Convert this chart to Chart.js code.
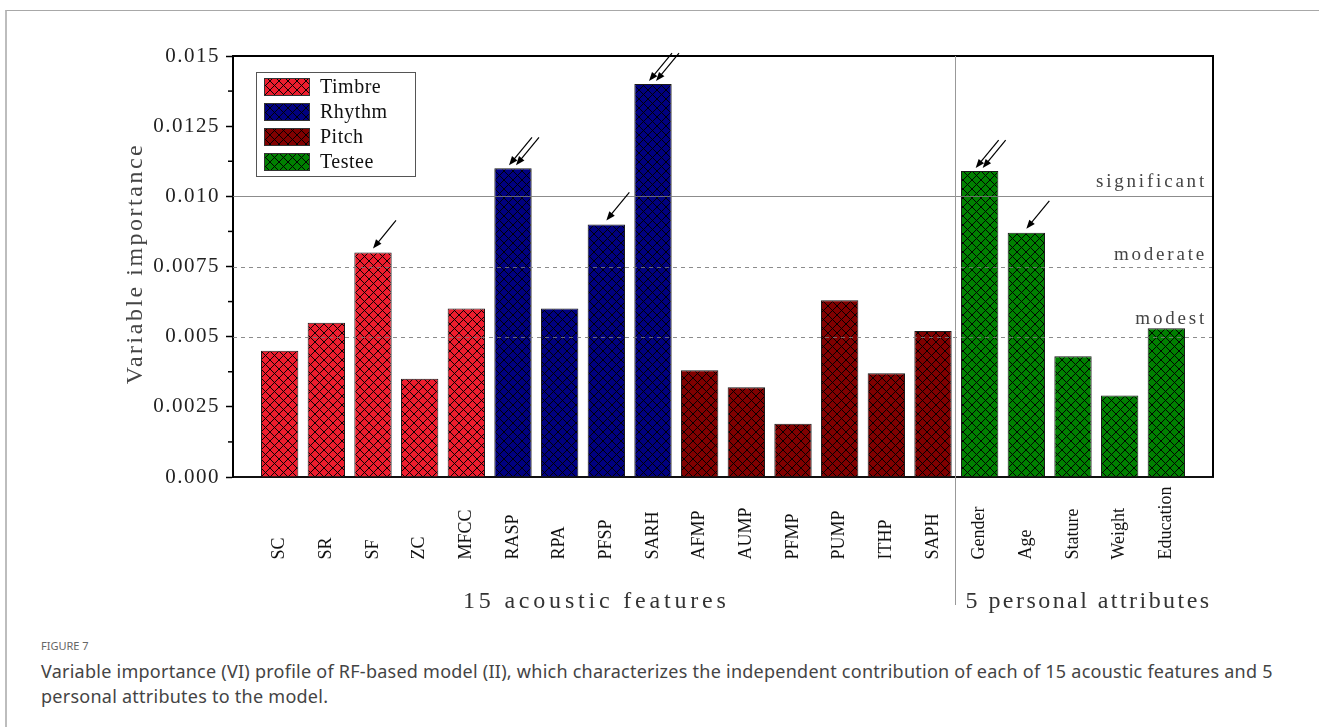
<!DOCTYPE html>
<html>
<head>
<meta charset="utf-8">
<script src="https://cdn.jsdelivr.net/npm/chart.js@4.4.1/dist/chart.umd.min.js"></script>
<style>
  html, body { margin: 0; padding: 0; background: #fff; }
  body { width: 1319px; height: 727px; position: relative; overflow: hidden; font-family: "Noto Sans", sans-serif; }
  .card { position: absolute; left: 5px; top: 10px; width: 1400px; height: 800px; border-left: 2px solid #bdbdbd; border-top: 1px solid #a8a8a8; }
  #wrap { position: absolute; left: 0; top: 0; width: 1319px; height: 625px; }
  .fig-no { position: absolute; left: 41px; top: 638px; font-size: 11px; line-height: 16px; color: #666; }
  .fig-cap { position: absolute; left: 41px; top: 659px; width: 1270px; font-size: 18px; line-height: 25px; letter-spacing: 0.25px; color: #444; white-space: nowrap; }
</style>
</head>
<body>
<div class="card"></div>
<div id="wrap"><canvas id="vi" width="1319" height="625"></canvas></div>
<div class="fig-no">FIGURE 7</div>
<div class="fig-cap">Variable importance (VI) profile of RF-based model (II), which characterizes the independent contribution of each of 15 acoustic features and 5<br>personal attributes to the model.</div>
<script>
// Variable importance of each feature / attribute
const features = ['SC', 'SR', 'SF', 'ZC', 'MFCC', 'RASP', 'RPA', 'PFSP', 'SARH', 'AFMP', 'AUMP', 'PFMP', 'PUMP', 'ITHP', 'SAPH', 'Gender', 'Age', 'Stature', 'Weight', 'Education'];
const importance = [0.0045, 0.0055, 0.0080, 0.0035, 0.0060, 0.0110, 0.0060, 0.0090, 0.0140, 0.0038, 0.0032, 0.0019, 0.0063, 0.0037, 0.0052, 0.0109, 0.0087, 0.0043, 0.0029, 0.0053];
const featureGroup = [0, 0, 0, 0, 0, 1, 1, 1, 1, 2, 2, 2, 2, 2, 2, 3, 3, 3, 3, 3];
const groupNames = ['Timbre', 'Rhythm', 'Pitch', 'Testee'];
const groupColors = ['#EE1D2E', '#000080', '#800000', '#008000'];

// Y axis ticks
const yTicks = [0, 0.0025, 0.005, 0.0075, 0.010, 0.0125, 0.015];
const yTickLabels = ['0.000', '0.0025', '0.005', '0.0075', '0.010', '0.0125', '0.015'];

// Importance levels
const levels = [0.005, 0.0075, 0.010];
const levelNames = ['modest', 'moderate', 'significant'];

// Features flagged with one or two arrows
const singleArrow = ['SF', 'PFSP', 'Age'];
const doubleArrow = ['RASP', 'SARH', 'Gender'];

const sectionNames = ['15 acoustic features', '5 personal attributes'];

const SERIF = '"Liberation Serif", "Times New Roman", serif';

// Cross-hatched fills
function hatch(color) {
  const s = 9;
  const tile = document.createElement('canvas');
  tile.width = s; tile.height = s;
  const g = tile.getContext('2d');
  g.fillStyle = color;
  g.fillRect(0, 0, s, s);
  g.strokeStyle = 'rgba(0,0,0,0.95)';
  g.lineWidth = 1;
  g.beginPath();
  for (const o of [-s, 0, s]) {
    g.moveTo(o, 0); g.lineTo(o + s, s);
    g.moveTo(o + s, 0); g.lineTo(o, s);
  }
  g.stroke();
  return g.createPattern(tile, 'repeat');
}
const patterns = groupColors.map(hatch);

const datasets = groupNames.map((name, g) => ({
  label: name,
  data: features.map((f, i) => ({ x: i, y: importance[i], grp: featureGroup[i] })).filter(d => d.grp === g),
  backgroundColor: patterns[g],
  borderColor: '#1a1a1a',
  borderWidth: 1,
  barPercentage: 0.8,
  categoryPercentage: 1,
  grouped: false
}));

const split = featureGroup.indexOf(3) - 0.5;

function arrow(ctx, tx, ty) {
  const sx = tx + 23, sy = ty - 28;
  const ang = Math.atan2(ty - sy, tx - sx);
  const L = 9, W = 3.5;
  ctx.beginPath();
  ctx.moveTo(sx, sy);
  ctx.lineTo(tx - Math.cos(ang) * (L - 1), ty - Math.sin(ang) * (L - 1));
  ctx.stroke();
  ctx.beginPath();
  ctx.moveTo(tx, ty);
  ctx.lineTo(tx - L * Math.cos(ang) + W * Math.sin(ang), ty - L * Math.sin(ang) - W * Math.cos(ang));
  ctx.lineTo(tx - L * Math.cos(ang) - W * Math.sin(ang), ty - L * Math.sin(ang) + W * Math.cos(ang));
  ctx.closePath();
  ctx.fill();
}

const decor = {
  id: 'decor',
  beforeDraw(chart) { chart.ctx.letterSpacing = '1.5px'; },
  beforeDatasetsDraw(chart) { chart.ctx.letterSpacing = '0px'; },
  afterDatasetsDraw(chart) {
    const ctx = chart.ctx;
    const { left, right, top, bottom } = chart.chartArea;
    const xs = chart.scales.x, ys = chart.scales.y;
    ctx.save();

    // level reference lines
    levels.forEach((v, k) => {
      const y = Math.round(ys.getPixelForValue(v)) + 0.5;
      ctx.strokeStyle = 'rgba(120,120,120,0.85)';
      ctx.lineWidth = 1;
      ctx.setLineDash(k === levels.length - 1 ? [] : [4, 4]);
      ctx.beginPath(); ctx.moveTo(left, y); ctx.lineTo(right, y); ctx.stroke();
    });
    ctx.setLineDash([]);

    // level names
    const lift = [13, 7, 9];
    ctx.font = '19px ' + SERIF;
    ctx.letterSpacing = '2.8px';
    ctx.fillStyle = '#444';
    ctx.textAlign = 'right';
    ctx.textBaseline = 'alphabetic';
    levels.forEach((v, k) => {
      ctx.fillText(levelNames[k], right - 6, ys.getPixelForValue(v) - lift[k]);
    });

    // frame: top and right
    ctx.strokeStyle = '#000';
    ctx.lineWidth = 2;
    ctx.beginPath();
    ctx.moveTo(left - 1, top); ctx.lineTo(right, top); ctx.lineTo(right, bottom);
    ctx.stroke();

    // minor ticks on y
    ctx.lineWidth = 1.5;
    for (let k = 0; k < yTicks.length - 1; k++) {
      const y = ys.getPixelForValue((yTicks[k] + yTicks[k + 1]) / 2);
      ctx.beginPath(); ctx.moveTo(left - 5, y); ctx.lineTo(left, y); ctx.stroke();
    }

    // divider between the two sections
    const dx = Math.round(xs.getPixelForValue(split)) - 0.5;
    ctx.strokeStyle = '#999';
    ctx.lineWidth = 1;
    ctx.beginPath(); ctx.moveTo(dx, top); ctx.lineTo(dx, bottom + 128); ctx.stroke();

    // arrows
    ctx.strokeStyle = '#000';
    ctx.fillStyle = '#000';
    ctx.lineWidth = 1.2;
    singleArrow.forEach(name => {
      const i = features.indexOf(name);
      arrow(ctx, xs.getPixelForValue(i), ys.getPixelForValue(importance[i]) - 4);
    });
    doubleArrow.forEach(name => {
      const i = features.indexOf(name);
      const cx = xs.getPixelForValue(i), ty = ys.getPixelForValue(importance[i]) - 3;
      arrow(ctx, cx - 4, ty);
      arrow(ctx, cx + 3, ty);
    });

    // category labels, rotated
    ctx.font = '18px ' + SERIF;
    ctx.letterSpacing = '0px';
    ctx.fillStyle = '#111';
    ctx.textAlign = 'left';
    ctx.textBaseline = 'middle';
    features.forEach((f, i) => {
      ctx.save();
      ctx.translate(xs.getPixelForValue(i), bottom + 82.5);
      ctx.rotate(-Math.PI / 2);
      ctx.fillText(f, 0, 0);
      ctx.restore();
    });

    // section labels
    ctx.font = '24px ' + SERIF;
    ctx.fillStyle = '#333';
    ctx.textAlign = 'left';
    ctx.textBaseline = 'alphabetic';
    ctx.letterSpacing = '3.8px';
    ctx.fillText(sectionNames[0], left + 230, bottom + 131);
    ctx.letterSpacing = '2.45px';
    ctx.fillText(sectionNames[1], dx + 10, bottom + 131);

    // y title
    ctx.save();
    ctx.font = '24px ' + SERIF;
    ctx.letterSpacing = '2.5px';
    ctx.fillStyle = '#444';
    ctx.translate(142, (top + bottom) / 2 - 3);
    ctx.rotate(-Math.PI / 2);
    ctx.textAlign = 'center';
    ctx.fillText('Variable importance', 0, 0);
    ctx.restore();

    // legend
    const lx = left + 23, ly = top + 16;
    ctx.letterSpacing = '0.5px';
    ctx.fillStyle = '#fff';
    ctx.fillRect(lx, ly, 159, 104);
    ctx.strokeStyle = '#555';
    ctx.lineWidth = 1;
    ctx.strokeRect(lx + 0.5, ly + 0.5, 159, 104);
    ctx.font = '20px ' + SERIF;
    ctx.textAlign = 'left';
    groupNames.forEach((name, k) => {
      const sy = ly + 6 + k * 25;
      ctx.fillStyle = patterns[k];
      ctx.fillRect(lx + 8, sy, 45, 17);
      ctx.strokeStyle = '#333';
      ctx.strokeRect(lx + 8.5, sy + 0.5, 45, 17);
      ctx.fillStyle = '#111';
      ctx.fillText(name, lx + 64, sy + 15);
    });

    ctx.restore();
  }
};

new Chart(document.getElementById('vi'), {
  type: 'bar',
  data: { datasets },
  options: {
    responsive: false,
    animation: false,
    devicePixelRatio: 1,
    layout: { padding: { left: 0, top: 56, right: 106, bottom: 0 } },
    plugins: { legend: { display: false }, tooltip: { enabled: false } },
    scales: {
      x: {
        type: 'linear', min: -1, max: 20, offset: false,
        grid: { display: false, drawTicks: false },
        ticks: { display: false },
        border: { display: true, color: '#111', width: 2 },
        afterFit(s) { s.height = 148; }
      },
      y: {
        min: 0, max: 0.015,
        afterBuildTicks(s) { s.ticks = yTicks.map(v => ({ value: v })); },
        ticks: {
          callback: v => yTickLabels[yTicks.indexOf(v)],
          color: '#222',
          font: { family: SERIF, size: 21 },
          padding: 6
        },
        grid: { drawOnChartArea: false, drawTicks: true, tickLength: 7, tickColor: '#000', tickWidth: 1.5 },
        border: { display: true, color: '#000', width: 2 },
        afterFit(s) { s.width = 233; }
      }
    }
  },
  plugins: [decor]
});
</script>
</body>
</html>
